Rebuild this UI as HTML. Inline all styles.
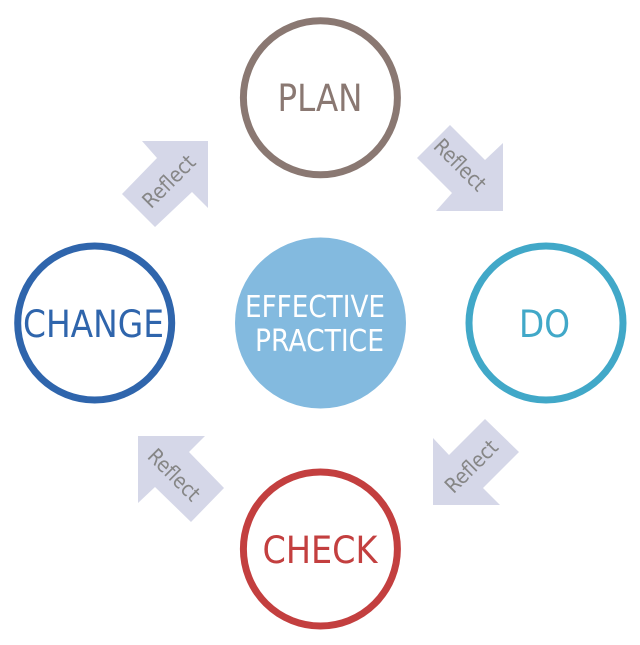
<!DOCTYPE html>
<html>
<head>
<meta charset="utf-8">
<style>
html,body{margin:0;padding:0;background:#fff;width:640px;height:645px;overflow:hidden}
svg{display:block}
text{font-family:"DejaVu Sans","Liberation Sans",sans-serif}
</style>
</head>
<body>
<svg width="640" height="645" viewBox="0 0 640 645" xmlns="http://www.w3.org/2000/svg">
<g fill="#d5d7e8">
<polygon points="450,125 485,160 503,143 503,211 436,211 452,193 417,158"/>
<polygon points="142,141 208,141 208,208 192,192 155,227 122,194 157,158"/>
<polygon points="138,436 205,436 189,452 224,488 191,522 155,487 138,503"/>
<polygon points="485,419 519,452 483,488 500,505 433,505 433,438 449,455"/>
</g>
<g fill="#868686" font-size="21" text-anchor="middle">
<text transform="translate(460,165) rotate(45)" y="7" textLength="64" lengthAdjust="spacingAndGlyphs">Reflect</text>
<text transform="translate(169,181.5) rotate(-45)" y="7" textLength="65" lengthAdjust="spacingAndGlyphs">Reflect</text>
<text transform="translate(174,475) rotate(45)" y="7" textLength="64" lengthAdjust="spacingAndGlyphs">Reflect</text>
<text transform="translate(471.5,466.5) rotate(-45)" y="7" textLength="65" lengthAdjust="spacingAndGlyphs">Reflect</text>
</g>
<circle cx="320.5" cy="323" r="85.5" fill="#83badf"/>
<g fill="#fff" font-size="30">
<text x="245" y="317" textLength="140" lengthAdjust="spacingAndGlyphs">EFFECTIVE</text>
<text x="255" y="351" textLength="129" lengthAdjust="spacingAndGlyphs">PRACTICE</text>
</g>
<g fill="#fff" stroke-width="7">
<circle cx="320.4" cy="97.8" r="77" stroke="#8a7872"/>
<circle cx="546" cy="323" r="77" stroke="#41a8c8"/>
<circle cx="320.4" cy="549" r="77" stroke="#c33f3f"/>
<circle cx="94.7" cy="323" r="77" stroke="#2f65ac"/>
</g>
<g font-size="37">
<text x="277.5" y="111" fill="#8a7872" textLength="85" lengthAdjust="spacingAndGlyphs">PLAN</text>
<text x="519" y="337" fill="#41a8c8" textLength="51" lengthAdjust="spacingAndGlyphs">DO</text>
<text x="262.5" y="563" fill="#c33f3f" textLength="115" lengthAdjust="spacingAndGlyphs">CHECK</text>
<text x="23" y="337" fill="#2f65ac" textLength="141" lengthAdjust="spacingAndGlyphs">CHANGE</text>
</g>
</svg>
</body>
</html>
